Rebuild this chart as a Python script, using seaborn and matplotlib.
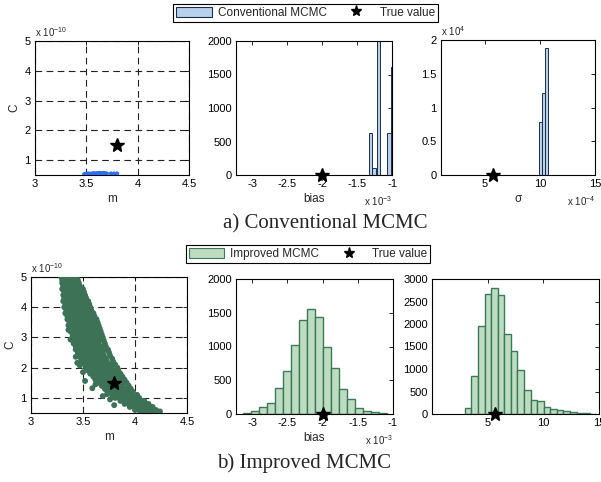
import numpy as np
import pandas as pd
import matplotlib
matplotlib.use("Agg")
import matplotlib.pyplot as plt
import seaborn as sns
from matplotlib.patches import Patch
from matplotlib.lines import Line2D

# ---------------- data ----------------
true_m = 3.8
true_C = 1.5          # x 1e-10
true_bias = -2.0      # x 1e-3
true_sigma = 5.7      # x 1e-4

# a) Conventional MCMC : samples of (m, C)
conv_m = [3.48, 3.50, 3.51, 3.52, 3.53, 3.54, 3.55, 3.56, 3.57, 3.58, 3.59, 3.60,
          3.61, 3.62, 3.63, 3.64, 3.65, 3.66, 3.67, 3.68, 3.70, 3.74, 3.77, 3.80]
conv_C = [0.53, 0.54, 0.53, 0.55, 0.54, 0.53, 0.55, 0.54, 0.56, 0.55, 0.54, 0.56,
          0.55, 0.56, 0.57, 0.55, 0.56, 0.55, 0.57, 0.56, 0.55, 0.55, 0.55, 0.55]

# a) bias histogram (x 1e-3)
conv_bias_edges = [-1.325, -1.280, -1.235, -1.220, -1.172, -1.067, -1.015, -0.975]
conv_bias_centers = [-1.3025, -1.2575, -1.196, -1.041, -0.995]
conv_bias_counts = [630, 100, 2600, 630, 1610]

# a) sigma histogram (x 1e-4)
conv_sigma_edges = [9.95, 10.20, 10.45, 10.72]
conv_sigma_centers = [10.075, 10.325, 10.585]
conv_sigma_counts = [7900, 12200, 18800]

# b) Improved MCMC : samples of (m, C), read row by row (C value, m values)
imp_rows = [
    (5.0, [3.29, 3.32, 3.36, 3.40, 3.44]),
    (4.9, [3.30, 3.34, 3.38, 3.42, 3.45]),
    (4.8, [3.30, 3.34, 3.38, 3.42, 3.46]),
    (4.7, [3.31, 3.35, 3.39, 3.43, 3.47]),
    (4.6, [3.30, 3.34, 3.38, 3.42, 3.46, 3.50]),
    (4.5, [3.32, 3.36, 3.40, 3.44, 3.48, 3.51]),
    (4.4, [3.31, 3.35, 3.39, 3.43, 3.47, 3.52]),
    (4.3, [3.32, 3.36, 3.40, 3.44, 3.48, 3.53]),
    (4.2, [3.31, 3.35, 3.39, 3.43, 3.47, 3.51, 3.55]),
    (4.1, [3.33, 3.37, 3.41, 3.45, 3.49, 3.53, 3.56]),
    (4.0, [3.32, 3.36, 3.40, 3.44, 3.48, 3.52, 3.57]),
    (3.9, [3.34, 3.38, 3.42, 3.46, 3.50, 3.54, 3.58]),
    (3.8, [3.33, 3.37, 3.41, 3.45, 3.49, 3.53, 3.57, 3.60]),
    (3.7, [3.35, 3.40, 3.44, 3.48, 3.52, 3.56, 3.61]),
    (3.6, [3.35, 3.39, 3.43, 3.47, 3.51, 3.55, 3.59, 3.63]),
    (3.5, [3.37, 3.41, 3.45, 3.49, 3.53, 3.57, 3.61, 3.64]),
    (3.4, [3.36, 3.40, 3.44, 3.48, 3.52, 3.56, 3.60, 3.65]),
    (3.3, [3.38, 3.42, 3.46, 3.50, 3.54, 3.58, 3.62, 3.66]),
    (3.2, [3.38, 3.42, 3.46, 3.50, 3.54, 3.58, 3.62, 3.67]),
    (3.1, [3.40, 3.44, 3.48, 3.52, 3.56, 3.60, 3.64, 3.68]),
    (3.0, [3.40, 3.44, 3.48, 3.52, 3.56, 3.60, 3.64, 3.69]),
    (2.9, [3.42, 3.46, 3.50, 3.54, 3.58, 3.62, 3.66, 3.70]),
    (2.8, [3.41, 3.45, 3.49, 3.53, 3.57, 3.61, 3.65, 3.71]),
    (2.7, [3.43, 3.47, 3.51, 3.55, 3.59, 3.63, 3.67, 3.72]),
    (2.6, [3.43, 3.47, 3.51, 3.55, 3.59, 3.63, 3.67, 3.71, 3.74]),
    (2.5, [3.45, 3.49, 3.53, 3.57, 3.61, 3.65, 3.69, 3.75]),
    (2.4, [3.46, 3.50, 3.54, 3.58, 3.62, 3.66, 3.70, 3.76]),
    (2.3, [3.48, 3.52, 3.56, 3.60, 3.64, 3.68, 3.72, 3.78]),
    (2.2, [3.49, 3.53, 3.57, 3.61, 3.65, 3.69, 3.73, 3.79]),
    (2.1, [3.52, 3.56, 3.60, 3.64, 3.68, 3.72, 3.76, 3.81]),
    (2.0, [3.53, 3.57, 3.61, 3.65, 3.69, 3.73, 3.77, 3.83]),
    (1.9, [3.55, 3.59, 3.63, 3.67, 3.71, 3.75, 3.79, 3.84]),
    (1.8, [3.57, 3.61, 3.65, 3.69, 3.73, 3.77, 3.81, 3.86]),
    (1.7, [3.60, 3.64, 3.68, 3.72, 3.76, 3.80, 3.84, 3.88]),
    (1.6, [3.62, 3.66, 3.70, 3.74, 3.78, 3.82, 3.86, 3.90]),
    (1.5, [3.65, 3.69, 3.73, 3.77, 3.81, 3.85, 3.89, 3.92]),
    (1.4, [3.68, 3.72, 3.76, 3.80, 3.84, 3.88, 3.94]),
    (1.3, [3.71, 3.75, 3.79, 3.83, 3.87, 3.91, 3.96]),
    (1.2, [3.74, 3.78, 3.82, 3.86, 3.90, 3.94, 3.98]),
    (1.1, [3.78, 3.82, 3.86, 3.90, 3.94, 3.98, 4.02]),
    (1.0, [3.81, 3.85, 3.89, 3.93, 3.97, 4.01, 4.04]),
    (0.9, [3.86, 3.90, 3.94, 3.98, 4.02, 4.06, 4.09]),
    (0.8, [3.90, 3.94, 3.98, 4.02, 4.06, 4.10, 4.13]),
    (0.7, [3.95, 3.99, 4.03, 4.07, 4.11, 4.15, 4.17]),
    (0.6, [4.00, 4.04, 4.08, 4.12, 4.16, 4.20]),
    (0.55, [4.05, 4.09, 4.13, 4.17, 4.21, 4.24]),
]
imp_out_m = [3.38, 3.43, 3.445, 3.47, 3.52, 3.59, 3.69, 3.73, 3.80, 3.72, 4.22, 4.18,
             3.36, 3.50, 3.62, 3.76]
imp_out_C = [2.93, 2.36, 2.16, 2.07, 1.56, 1.32, 1.06, 1.12, 0.76, 1.28, 0.55, 0.58,
             3.25, 1.85, 1.45, 0.95]

# b) bias histogram (x 1e-3)
imp_bias_edges = [-3.125, -3.012, -2.899, -2.786, -2.673, -2.560, -2.447, -2.334,
                  -2.221, -2.108, -1.995, -1.882, -1.769, -1.656, -1.543, -1.430,
                  -1.317, -1.204, -1.091]
imp_bias_counts = [20, 40, 109, 168, 391, 634, 1025, 1396, 1554, 1431, 990, 688,
                   376, 218, 89, 40, 25, 20]

# b) sigma histogram (x 1e-4)
imp_sigma_edges = [2.95, 3.54, 4.13, 4.72, 5.31, 5.90, 6.49, 7.08, 7.67, 8.26, 8.85,
                   9.44, 10.03, 10.62, 11.21, 11.80, 12.39, 12.98, 13.57, 14.16, 14.75]
imp_sigma_counts = [134, 839, 1946, 2666, 2800, 2644, 1775, 1389, 973, 535, 304, 282,
                    163, 111, 89, 59, 37, 22, 15, 7]

# ---------------- style ----------------
sns.set_style("white")
plt.rcParams["font.family"] = ["Liberation Sans", "DejaVu Sans"]
plt.rcParams["axes.unicode_minus"] = False
plt.rcParams["mathtext.default"] = "regular"

conv_fill, conv_edge = "#b7d0ec", "#1c2f4a"
imp_fill, imp_edge = "#bddcc1", "#3b7a56"
conv_pt = "#2a6ff0"
imp_pt = "#3d7256"

W, H = 601, 482
fig = plt.figure(figsize=(W / 100, H / 100), dpi=100)


def rect(x0, x1, y0, y1):
    return [x0 / W, 1 - y1 / H, (x1 - x0) / W, (y1 - y0) / H]


def style_axes(ax):
    for s in ax.spines.values():
        s.set_visible(True)
        s.set_color("black")
        s.set_linewidth(0.8)
    ax.tick_params(direction="in", length=3, width=0.6, top=True, right=True,
                   labelsize=8, pad=3, colors="black")
    ax.set_xlabel("")
    ax.set_ylabel("")


def star(ax, x, y):
    ax.plot([x], [y], marker="*", color="black", markersize=10, linestyle="none",
            clip_on=False, zorder=10)


def exp_top(ax, txt):
    ax.text(0.0, 1.015, txt, transform=ax.transAxes, ha="left", va="bottom", fontsize=7)


def exp_bottom(ax, txt):
    ax.annotate(txt, xy=(1.0, 0.0), xycoords="axes fraction", xytext=(0, -14),
                textcoords="offset points", ha="right", va="top", fontsize=7)


def scatter_panel(ax, mx, cy, color, s):
    ax.set_axisbelow(True)
    sns.scatterplot(x=mx, y=cy, ax=ax, color=color, s=s, linewidth=0,
                    edgecolor="none", legend=False, zorder=3)
    ax.set_xlim(3, 4.5)
    ax.set_ylim(0.5, 5)
    ax.set_xticks([3, 3.5, 4, 4.5])
    ax.set_xticklabels(["3", "3.5", "4", "4.5"])
    ax.set_yticks([1, 2, 3, 4, 5])
    ax.grid(True, color="#222222", linestyle=(0, (6, 4)), linewidth=0.8)
    style_axes(ax)
    ax.set_xlabel("m", fontsize=8.5, labelpad=3)
    ax.set_ylabel("C", fontsize=8.5, labelpad=3)
    exp_top(ax, r"x 10$^{-10}$")
    star(ax, true_m, true_C)


def hist_panel(ax, centers, counts, edges, fill, edge, lw):
    sns.histplot(x=centers, weights=counts, bins=edges, ax=ax, color=fill,
                 edgecolor=edge, linewidth=lw, alpha=1, legend=False)
    style_axes(ax)


# ---- a) top row ----
ax1 = fig.add_axes(rect(35, 189, 41, 175))
scatter_panel(ax1, conv_m, conv_C, conv_pt, 9)

ax2 = fig.add_axes(rect(236, 392, 41, 175))
hist_panel(ax2, conv_bias_centers, conv_bias_counts, conv_bias_edges,
           conv_fill, conv_edge, 0.7)
ax2.set_xlim(-3.23, -1.0)
ax2.set_ylim(0, 2000)
ax2.set_xticks([-3, -2.5, -2, -1.5, -1])
ax2.set_xticklabels(["-3", "-2.5", "-2", "-1.5", "-1"])
ax2.set_yticks([0, 500, 1000, 1500, 2000])
ax2.set_xlabel("bias", fontsize=8.5, labelpad=3)
exp_bottom(ax2, r"x 10$^{-3}$")
star(ax2, true_bias, 0)

ax3 = fig.add_axes(rect(441, 595, 40, 175))
hist_panel(ax3, conv_sigma_centers, conv_sigma_counts, conv_sigma_edges,
           conv_fill, conv_edge, 0.7)
ax3.set_xlim(1, 15)
ax3.set_ylim(0, 20000)
ax3.set_xticks([5, 10, 15])
ax3.set_yticks([0, 5000, 10000, 15000, 20000])
ax3.set_yticklabels(["0", "0.5", "1", "1.5", "2"])
ax3.set_xlabel("σ", fontsize=8.5, labelpad=3)
exp_top(ax3, r"x 10$^{4}$")
exp_bottom(ax3, r"x 10$^{-4}$")
star(ax3, true_sigma, 0)

# ---- b) bottom row ----
imp_m = [m for c, ms in imp_rows for m in ms] + imp_out_m
imp_C = [c for c, ms in imp_rows for m in ms] + imp_out_C
ax4 = fig.add_axes(rect(31, 187, 277, 413))
scatter_panel(ax4, imp_m, imp_C, imp_pt, 18)

e = np.array(imp_bias_edges)
ax5 = fig.add_axes(rect(236, 393, 279, 414))
hist_panel(ax5, (e[:-1] + e[1:]) / 2, imp_bias_counts, imp_bias_edges,
           imp_fill, imp_edge, 1.0)
ax5.set_xlim(-3.23, -1.0)
ax5.set_ylim(0, 2000)
ax5.set_xticks([-3, -2.5, -2, -1.5, -1])
ax5.set_xticklabels(["-3", "-2.5", "-2", "-1.5", "-1"])
ax5.set_yticks([0, 500, 1000, 1500, 2000])
ax5.set_xlabel("bias", fontsize=8.5, labelpad=3)
exp_bottom(ax5, r"x 10$^{-3}$")
star(ax5, true_bias, 0)

e = np.array(imp_sigma_edges)
ax6 = fig.add_axes(rect(432, 599, 279, 414))
hist_panel(ax6, (e[:-1] + e[1:]) / 2, imp_sigma_counts, imp_sigma_edges,
           imp_fill, imp_edge, 1.0)
ax6.set_xlim(0, 15)
ax6.set_ylim(0, 3000)
ax6.set_xticks([5, 10, 15])
ax6.set_yticks([0, 500, 1000, 1500, 2000, 2500, 3000])
star(ax6, true_sigma, 0)

# ---- legends ----
def make_legend(fill, edge, label, cx, cy):
    handles = [Patch(facecolor=fill, edgecolor=edge, linewidth=0.8),
               Line2D([], [], marker="*", color="black", markersize=8, linestyle="none")]
    leg = fig.legend(handles, [label, "True value"], loc="center",
                     bbox_to_anchor=(cx, cy), ncol=2, frameon=True, fancybox=False,
                     edgecolor="black", framealpha=1, fontsize=8.5,
                     handlelength=3.0, handleheight=1.0, borderpad=0.25,
                     columnspacing=1.0, handletextpad=0.5, borderaxespad=0)
    leg.get_frame().set_linewidth(0.8)
    return leg

make_legend(conv_fill, conv_edge, "Conventional MCMC", 305.5 / W, 1 - 13 / H)
make_legend(imp_fill, imp_edge, "Improved MCMC", 308 / W, 1 - 254 / H)

# ---- captions ----
fig.text(325 / W, 1 - 228 / H, "a) Conventional MCMC", ha="center", va="baseline",
         fontsize=15, family=["Liberation Serif", "DejaVu Serif"])
fig.text(304 / W, 1 - 468 / H, "b) Improved MCMC", ha="center", va="baseline",
         fontsize=15, family=["Liberation Serif", "DejaVu Serif"])

fig.savefig("out.png", dpi=100)
